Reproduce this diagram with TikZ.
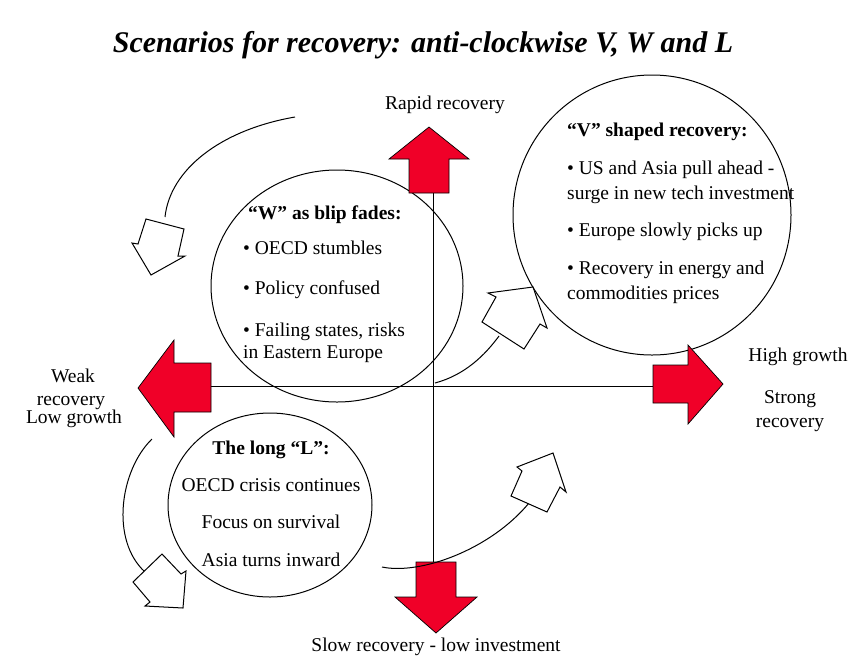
\documentclass[tikz,border=0pt]{standalone}
\usepackage{fontspec}
\setmainfont{Liberation Serif}
\definecolor{arrowred}{RGB}{240,0,40}
\tikzset{
  redarrow/.style={fill=arrowred, draw=black, line width=0.7pt, line join=miter},
  hollowarrow/.style={fill=white, draw=black, line width=1pt, line join=miter},
  tailline/.style={draw=black, line width=1pt},
  axisline/.style={draw=black, line width=1pt},
  scen/.style={draw=black, line width=1pt},
  lbl/.style={inner sep=0pt, font=\fontsize{19.5}{22}\selectfont},
  lblb/.style={inner sep=0pt, font=\fontsize{19.5}{22}\selectfont\bfseries},
}
\begin{document}
\begin{tikzpicture}[x=1pt, y=-1pt]
\useasboundingbox (0,0) rectangle (859,657);
% title
\node[inner sep=0pt, anchor=base] (title) at (423,52) {\fontsize{30}{32}\selectfont\bfseries\itshape Scenarios for recovery: anti-clockwise V, W and L};
% axes
\coordinate (vtop) at (433,193);
\coordinate (vbot) at (433,562);
\coordinate (hleft) at (211,386);
\coordinate (hright) at (653,386);
\draw[axisline] (vtop) -- (vbot);
\draw[axisline] (hleft) -- (hright);
% scenario ellipses
\draw[scen] (337,286) ellipse [x radius=126, y radius=116];
\draw[scen] (652,215) ellipse [x radius=139, y radius=140];
\draw[scen] (270,505) ellipse [x radius=102, y radius=92];
% red arrows
\draw[redarrow] (429,127) -- (469,159) -- (449,159) -- (449,193) -- (409,193) -- (409,159) -- (389,159) -- cycle;
\draw[redarrow] (138,388) -- (174,340) -- (174,363) -- (211,363) -- (211,412) -- (174,412) -- (174,437) -- cycle;
\draw[redarrow] (723,384) -- (688,345) -- (688,365) -- (653,365) -- (653,403) -- (688,403) -- (688,424) -- cycle;
\draw[redarrow] (436,633) -- (477,597) -- (456,597) -- (456,562) -- (416,562) -- (416,597) -- (395,597) -- cycle;
% curved tails
\coordinate (ta0) at (295,117); \coordinate (ta1) at (165,217);
\coordinate (tb0) at (152,439); \coordinate (tb1) at (145,572);
\coordinate (tc0) at (435,383); \coordinate (tc1) at (499,336);
\coordinate (td0) at (382,567); \coordinate (td1) at (529,503);
\draw[tailline] (ta0) .. controls (220,130) and (170,170) .. (ta1);
\draw[tailline] (tb0) .. controls (120,470) and (110,540) .. (tb1);
\draw[tailline] (tc0) .. controls (465,375) and (485,355) .. (tc1);
\draw[tailline] (td0) .. controls (420,575) and (490,550) .. (td1);
% hollow arrows
\draw[hollowarrow] (146,219) -- (184,229) -- (178,256) -- (185,256) -- (151,275) -- (132,243) -- (138,244) -- cycle;
\draw[hollowarrow] (162,554) -- (181,574) -- (186,571) -- (183,608) -- (145,606) -- (150,602) -- (133,582) -- cycle;
\draw[hollowarrow] (488,293) -- (533,287) -- (547,328) -- (540,324) -- (524,349) -- (482,322) -- (496,297) -- cycle;
\draw[hollowarrow] (517,467) -- (553,453) -- (566,492) -- (560,487) -- (547,512) -- (511,496) -- (522,471) -- cycle;
% axis labels
\node[lbl, anchor=base] (rapid) at (445,109) {Rapid recovery};
\node[lbl, anchor=base] (weak1) at (73,382) {Weak};
\node[lbl, anchor=base] (weak2) at (71,405) {recovery};
\node[lbl, anchor=base] (lowg) at (74,423) {Low growth};
\node[lbl, anchor=base] (highg) at (798,361) {High growth};
\node[lbl, anchor=base] (strong1) at (790,403) {Strong};
\node[lbl, anchor=base] (strong2) at (790,427) {recovery};
\node[lbl, anchor=base] (slow) at (436,651) {Slow recovery - low investment};
% W text
\node[lblb, anchor=base west] (wt) at (248,219) {“W” as blip fades:};
\node[lbl, anchor=base west] (w1) at (243,254) {• OECD stumbles};
\node[lbl, anchor=base west] (w2) at (243,294) {• Policy confused};
\node[lbl, anchor=base west] (w3) at (243,336) {• Failing states, risks};
\node[lbl, anchor=base west] (w4) at (243,358) {in Eastern Europe};
% V text
\node[lblb, anchor=base west] (vt) at (567,136) {“V” shaped recovery:};
\node[lbl, anchor=base west] (v1) at (567,174) {• US and Asia pull ahead -};
\node[lbl, anchor=base west] (v2) at (567,199) {surge in new tech investment};
\node[lbl, anchor=base west] (v3) at (567,236) {• Europe slowly picks up};
\node[lbl, anchor=base west] (v4) at (567,274) {• Recovery in energy and};
\node[lbl, anchor=base west] (v5) at (567,299) {commodities prices};
% L text
\node[lblb, anchor=base] (lt) at (271,454) {The long “L”:};
\node[lbl, anchor=base] (l1) at (271,491) {OECD crisis continues};
\node[lbl, anchor=base] (l2) at (271,528) {Focus on survival};
\node[lbl, anchor=base] (l3) at (271,566) {Asia turns inward};
\end{tikzpicture}
\end{document}
